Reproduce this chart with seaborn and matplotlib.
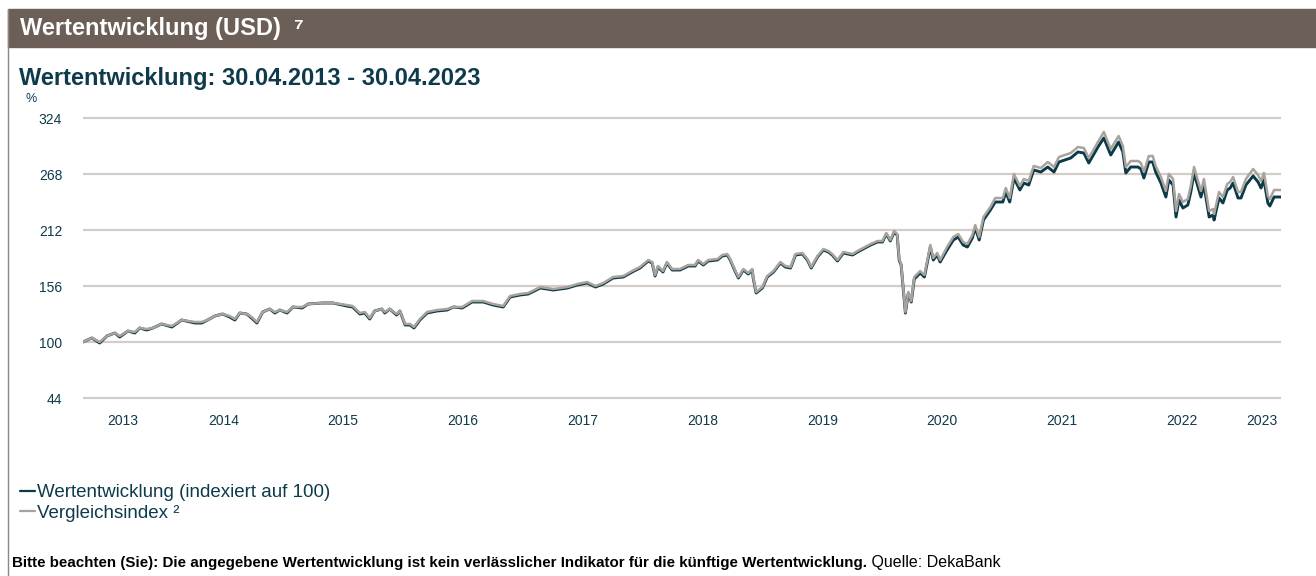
import pandas as pd
import matplotlib
matplotlib.use('Agg')
import matplotlib.pyplot as plt
from matplotlib.patches import Rectangle
from matplotlib.lines import Line2D
import seaborn as sns

# Data (indexed, start = 100)
dates = [
    '2013-04-30', '2013-05-27', '2013-06-20', '2013-07-12', '2013-08-05', '2013-08-20',
    '2013-09-14', '2013-10-05', '2013-10-20', '2013-11-10', '2013-11-29', '2013-12-26',
    '2014-01-26', '2014-02-25', '2014-04-06', '2014-04-27', '2014-05-15', '2014-06-06',
    '2014-06-30', '2014-07-21', '2014-08-06', '2014-08-21', '2014-09-11', '2014-09-26',
    '2014-10-12', '2014-10-30', '2014-11-20', '2014-12-06', '2014-12-21', '2015-01-12',
    '2015-01-30', '2015-02-27', '2015-03-17', '2015-04-29', '2015-06-01', '2015-07-13',
    '2015-07-31', '2015-08-22', '2015-09-06', '2015-09-21', '2015-10-06', '2015-10-28',
    '2015-11-06', '2015-11-21', '2015-12-12', '2015-12-22', '2016-01-07', '2016-01-22',
    '2016-02-03', '2016-02-21', '2016-03-14', '2016-04-13', '2016-05-14', '2016-06-02',
    '2016-06-29', '2016-07-29', '2016-09-01', '2016-10-01', '2016-11-01', '2016-11-22',
    '2016-12-22', '2017-01-16', '2017-02-22', '2017-04-03', '2017-05-16', '2017-06-15',
    '2017-07-15', '2017-08-09', '2017-09-02', '2017-10-02', '2017-11-02', '2017-11-29',
    '2017-12-23', '2018-01-17', '2018-01-29', '2018-02-07', '2018-02-16', '2018-03-03',
    '2018-03-15', '2018-03-31', '2018-04-24', '2018-05-19', '2018-06-09', '2018-06-18',
    '2018-07-04', '2018-07-19', '2018-08-16', '2018-08-31', '2018-09-15', '2018-09-24',
    '2018-10-10', '2018-10-19', '2018-11-03', '2018-11-18', '2018-11-30', '2018-12-03',
    '2018-12-12', '2018-12-31', '2019-01-15', '2019-02-03', '2019-02-24', '2019-03-11',
    '2019-03-27', '2019-04-11', '2019-05-02', '2019-05-17', '2019-05-29', '2019-06-17',
    '2019-07-05', '2019-07-20', '2019-08-01', '2019-08-17', '2019-09-04', '2019-10-02',
    '2019-10-17', '2019-11-26', '2019-12-17', '2020-01-01', '2020-01-13', '2020-01-25',
    '2020-02-06', '2020-02-15', '2020-02-21', '2020-02-27', '2020-03-11', '2020-03-20',
    '2020-03-29', '2020-04-07', '2020-04-25', '2020-05-08', '2020-05-26', '2020-06-04',
    '2020-06-16', '2020-06-25', '2020-07-16', '2020-08-04', '2020-08-19', '2020-09-03',
    '2020-09-16', '2020-10-01', '2020-10-10', '2020-10-22', '2020-11-04', '2020-11-25',
    '2020-12-10', '2021-01-02', '2021-01-11', '2021-01-23', '2021-02-05', '2021-02-23',
    '2021-03-07', '2021-03-22', '2021-04-06', '2021-04-28', '2021-05-19', '2021-06-07',
    '2021-06-22', '2021-07-28', '2021-08-19', '2021-09-06', '2021-09-21', '2021-10-19',
    '2021-11-06', '2021-11-27', '2021-12-12', '2021-12-21', '2022-01-03', '2022-01-12',
    '2022-01-27', '2022-02-18', '2022-02-27', '2022-03-08', '2022-03-23', '2022-04-04',
    '2022-04-13', '2022-04-29', '2022-05-14', '2022-05-23', '2022-06-05', '2022-06-14',
    '2022-06-23', '2022-07-05', '2022-07-20', '2022-07-29', '2022-08-08', '2022-08-20',
    '2022-08-29', '2022-09-07', '2022-09-23', '2022-10-05', '2022-10-08', '2022-10-23',
    '2022-11-04', '2022-11-17', '2022-11-26', '2022-12-05', '2022-12-20', '2022-12-29',
    '2023-01-13', '2023-02-04', '2023-02-19', '2023-02-28', '2023-03-09', '2023-03-21',
    '2023-03-27', '2023-04-09', '2023-04-30',
]

fund = [
    100, 104, 99, 106, 109, 105,
    111, 109, 114, 112, 114, 118,
    115, 122, 119, 119, 122, 126,
    128, 125, 122, 129, 128, 124,
    119, 130, 133, 129, 132, 129,
    135, 134, 138, 139, 139, 136,
    135, 128, 129, 123, 131, 133,
    129, 133, 127, 131, 117, 117,
    114, 122, 129, 131, 132, 135,
    134, 140, 140, 137, 135, 145,
    147, 148, 154, 152, 154, 157,
    159, 155, 158, 164, 165, 170,
    174, 181, 179, 166, 175, 170,
    179, 172, 172, 176, 176, 181,
    177, 181, 182, 186, 187, 182,
    170, 164, 172, 168, 172, 164,
    149, 154, 165, 170, 179, 175,
    174, 187, 188, 182, 174, 185,
    192, 190, 187, 181, 189, 187,
    190, 197, 200, 200, 208, 201,
    210, 207, 182, 177, 129, 149,
    140, 163, 169, 165, 195, 182,
    187, 180, 192, 202, 205, 197,
    195, 204, 214, 202, 222, 232,
    240, 240, 250, 240, 264, 252,
    259, 257, 272, 270, 275, 270,
    280, 284, 290, 289, 279, 295,
    304, 287, 295, 300, 290, 269,
    275, 275, 273, 264, 280, 280,
    270, 259, 245, 262, 257, 225,
    242, 234, 237, 250, 269, 255,
    245, 257, 225, 227, 222, 244,
    239, 252, 254, 259, 244, 244,
    257, 266, 260, 254, 262, 239,
    236, 245, 245,
]

benchmark = [
    100, 104, 100, 106, 109, 106,
    111, 110, 114, 113, 114, 118,
    116, 122, 120, 120, 122, 126,
    128, 126, 123, 129, 128, 125,
    120, 130, 133, 130, 132, 130,
    135, 135, 138, 139, 139, 137,
    136, 129, 130, 124, 131, 133,
    130, 133, 128, 131, 118, 118,
    115, 123, 130, 132, 133, 135,
    135, 141, 141, 138, 136, 146,
    148, 149, 155, 153, 155, 158,
    160, 156, 159, 165, 166, 171,
    175, 182, 180, 167, 176, 171,
    180, 173, 173, 177, 177, 182,
    178, 182, 183, 187, 188, 183,
    171, 165, 173, 169, 173, 165,
    150, 155, 166, 171, 180, 176,
    175, 188, 189, 183, 175, 186,
    193, 191, 188, 182, 190, 188,
    191, 198, 201, 201, 209, 202,
    211, 208, 183, 178, 130, 150,
    141, 165, 171, 167, 197, 184,
    189, 182, 195, 205, 208, 200,
    198, 207, 217, 205, 225, 235,
    244, 244, 254, 244, 268, 256,
    263, 261, 276, 274, 280, 275,
    285, 289, 295, 294, 284, 300,
    310, 293, 301, 306, 296, 275,
    281, 281, 279, 270, 286, 286,
    276, 265, 251, 268, 263, 231,
    248, 240, 243, 256, 275, 261,
    251, 263, 231, 233, 228, 250,
    245, 258, 260, 265, 250, 250,
    263, 273, 267, 261, 269, 246,
    243, 252, 252,
]

y_ticks = [44, 100, 156, 212, 268, 324]
years = list(range(2013, 2024))

FUND_LABEL = 'Wertentwicklung (indexiert auf 100)'
BENCH_LABEL = 'Vergleichsindex \u00b2'

FUND_COLOR = '#0b3a48'
BENCH_COLOR = '#a9a39d'
TEXT_COLOR = '#0e3b4b'
GRID_COLOR = '#d2cdc8'
HEADER_COLOR = '#6b5f58'

sns.set_theme(style='white')
plt.rcParams['font.family'] = ['Liberation Sans', 'DejaVu Sans']

df = pd.DataFrame({
    'date': pd.to_datetime(dates),
    'fund': fund,
    'benchmark': benchmark,
})

W, H = 1316, 576
fig = plt.figure(figsize=(W / 100, H / 100), dpi=100)

# plot area in pixels: x 83..1281, y-values 42..326 -> rows 400..116
ax = fig.add_axes([83 / W, 1 - 400 / H, (1281 - 83) / W, 284 / H])

sns.lineplot(data=df, x='date', y='fund', ax=ax, color=FUND_COLOR, linewidth=2.1)
sns.lineplot(data=df, x='date', y='benchmark', ax=ax, color=BENCH_COLOR, linewidth=1.8)

ax.set_ylim(42, 326)
ax.set_xlim(df['date'].min(), df['date'].max())
ax.set_yticks(y_ticks)
ax.set_yticklabels([str(v) for v in y_ticks])
ax.yaxis.grid(True, color=GRID_COLOR, linewidth=1.6)
ax.set_axisbelow(True)
for s in ax.spines.values():
    s.set_visible(False)

# year labels centred on the visible part of each year
start, end = df['date'].min(), df['date'].max()
xt = []
for yr in years:
    a = max(start, pd.Timestamp(f'{yr}-01-01'))
    b = min(end, pd.Timestamp(f'{yr}-12-31'))
    xt.append(a + (b - a) / 2)
ax.set_xticks(xt)
ax.set_xticklabels([str(y) for y in years])
ax.tick_params(axis='both', length=0, labelsize=10, colors=TEXT_COLOR)
ax.tick_params(axis='x', pad=10)
ax.tick_params(axis='y', pad=15)
ax.set_xlabel('')
ax.set_ylabel('')

# header bar and left frame line
fig.patches.append(Rectangle((8 / W, 1 - 47 / H), 1 - 8 / W, 38 / H,
                             transform=fig.transFigure, color=HEADER_COLOR, zorder=0))
fig.lines.append(Line2D([8 / W, 8 / W], [0, 1 - 9 / H], transform=fig.transFigure,
                        color='#8f8680', linewidth=1.0))
fig.text(20 / W, 1 - 29 / H, 'Wertentwicklung (USD)  \u2077', color='white',
         fontsize=17, fontweight='bold', va='center', ha='left')

fig.text(19 / W, 1 - 79 / H, 'Wertentwicklung: 30.04.2013 - 30.04.2023', color=TEXT_COLOR,
         fontsize=17, fontweight='bold', va='center', ha='left')
fig.text(26 / W, 1 - 99 / H, '%', color=TEXT_COLOR, fontsize=9, va='center', ha='left')

# legend
handles = [Line2D([], [], color=FUND_COLOR, linewidth=1.6),
           Line2D([], [], color=BENCH_COLOR, linewidth=1.6)]
fig.legend(handles, [FUND_LABEL, BENCH_LABEL], loc='upper left',
           bbox_to_anchor=(20 / W, 1 - 484 / H), frameon=False, fontsize=13.5,
           handlelength=0.8, handletextpad=0.12, labelspacing=0.2,
           borderaxespad=0, borderpad=0, labelcolor=TEXT_COLOR)

# footnote: bold part, then regular source text right after it
t1 = fig.text(12 / W, 1 - 563 / H,
              'Bitte beachten (Sie): Die angegebene Wertentwicklung ist kein verl\u00e4sslicher '
              'Indikator f\u00fcr die k\u00fcnftige Wertentwicklung.',
              fontsize=10.9, fontweight='bold', color='black', va='center', ha='left')
fig.add_artist(matplotlib.text.Annotation(' Quelle: DekaBank', xy=(1, 0.5), xycoords=t1,
                                          va='center', ha='left', fontsize=11.5, color='black'))

fig.savefig('out.png', dpi=100)
